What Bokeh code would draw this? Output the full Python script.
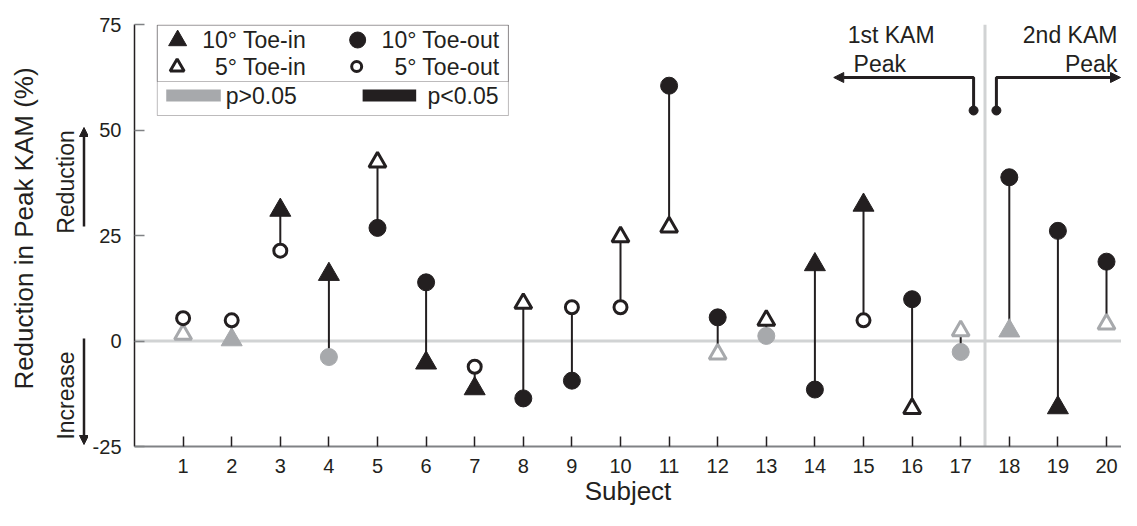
import numpy as np
from bokeh.plotting import figure
from bokeh.layouts import row
from bokeh.models import (Range1d, FixedTicker, Span, Label, Arrow, NormalHead,
                          BoxAnnotation, ColumnDataSource)
from bokeh.embed import file_html
from bokeh.resources import INLINE

# ---------------- data ----------------
subjects = list(range(1, 21))
x_ticks = subjects
y_ticks = [-25, 0, 25, 50, 75]

# Reduction in peak KAM (%) per subject (None = condition not plotted)
toe_in_10 = [None, 0.3, 31.0, 15.8, None, -5.2, -11.3, None, None, None,
             None, None, None, 18.1, 32.2, None, None, 2.4, -15.8, None]
toe_in_5 = [1.6, None, None, None, 42.4, None, None, 8.9, None, 24.7,
            27.0, -3.1, 4.9, None, None, -16.0, 2.4, None, None, 4.0]
toe_out_10 = [None, None, None, -3.8, 26.8, 13.9, None, -13.6, -9.4, None,
              60.5, 5.6, 1.2, -11.5, None, 9.9, -2.6, 38.8, 26.1, 18.8]
toe_out_5 = [5.4, 4.9, 21.4, None, None, None, -6.1, None, 8.0, 8.0,
             None, None, None, None, 4.9, None, None, None, None, None]

# significance: True = p<0.05 (black), False = p>0.05 (grey)
toe_in_10_sig = [None, False, True, True, None, True, True, None, None, None,
                 None, None, None, True, True, None, None, False, True, None]
toe_in_5_sig = [False, None, None, None, True, None, None, True, None, True,
                True, False, True, None, None, True, False, None, None, False]
toe_out_10_sig = [None, None, None, False, True, True, None, True, True, None,
                  True, True, False, True, None, True, False, True, True, True]
toe_out_5_sig = [True, True, True, None, None, None, True, None, True, True,
                 None, None, None, None, True, None, None, None, None, None]

peak_split = 17.5  # subjects 1-17: 1st KAM peak, 18-20: 2nd KAM peak

# ---------------- style / geometry ----------------
BLACK = "#231f20"
GREY = "#a7a9ac"
LIGHT = "#d1d3d4"
AXIS_GREY = "#808285"
FONT = "Liberation Sans"

H = 510
LEFT_W = 88
MAIN_W = 1121 - LEFT_W
BORDER_L, BORDER_T, BORDER_B = 46, 24, 64
PX_PER_X = 48.6
X_MIN = 0.0
X_MAX = (MAIN_W - BORDER_L) / PX_PER_X
Y_MIN, Y_MAX = -25.0, 75.0

y_range = Range1d(Y_MIN, Y_MAX)

# reference-image pixel -> data helpers (used only for annotation placement)
def X(px):
    return (px - 134) / 49.0

def Y(py):
    return Y_MAX - (py - 24) / 4.22

p = figure(width=MAIN_W, height=H, output_backend="svg", toolbar_location=None,
           x_range=Range1d(X_MIN, X_MAX), y_range=y_range,
           min_border_left=BORDER_L, min_border_right=0,
           min_border_top=BORDER_T, min_border_bottom=BORDER_B)
p.outline_line_color = None
p.grid.visible = False

# axes
p.xaxis.ticker = FixedTicker(ticks=x_ticks)
p.yaxis.ticker = FixedTicker(ticks=y_ticks)
p.yaxis.major_label_overrides = {t: str(t) for t in y_ticks}
p.xaxis.minor_tick_line_color = None
p.yaxis.minor_tick_line_color = None
for ax in (p.xaxis, p.yaxis):
    ax.major_tick_in = 10
    ax.major_tick_out = 0
    ax.major_label_text_font = FONT
    ax.major_label_text_font_size = "20px"
    ax.major_label_text_color = BLACK
p.xaxis.axis_line_color = AXIS_GREY
p.xaxis.axis_line_width = 2
p.xaxis.major_tick_line_color = BLACK
p.xaxis.major_tick_line_width = 1.5
p.xaxis.major_label_standoff = 12
p.xaxis.axis_label = "Subject"
p.xaxis.axis_label_text_font = FONT
p.xaxis.axis_label_text_font_size = "26px"
p.xaxis.axis_label_text_font_style = "normal"
p.xaxis.axis_label_text_color = BLACK
p.xaxis.axis_label_standoff = 0
p.yaxis.axis_line_color = BLACK
p.yaxis.axis_line_width = 1.5
p.yaxis.major_tick_line_color = AXIS_GREY
p.yaxis.major_tick_line_width = 1.5
p.yaxis.major_label_standoff = 13

# reference lines
p.add_layout(Span(location=0, dimension="width", line_color=LIGHT,
                  line_width=3, level="underlay"))
p.add_layout(Span(location=peak_split, dimension="height", line_color=LIGHT,
                  line_width=3, level="underlay"))

# connecting lines between the two conditions of each subject
seg_x, seg_lo, seg_hi = [], [], []
for i, s in enumerate(subjects):
    vals = [v for v in (toe_in_10[i], toe_in_5[i], toe_out_10[i], toe_out_5[i])
            if v is not None]
    seg_x.append(s)
    seg_lo.append(min(vals))
    seg_hi.append(max(vals))
p.segment(x0=seg_x, y0=seg_lo, x1=seg_x, y1=seg_hi,
          line_color=BLACK, line_width=2)

def pts(vals, sig):
    xs, ys, cs = [], [], []
    for s, v, g in zip(subjects, vals, sig):
        if v is not None:
            xs.append(s)
            ys.append(v)
            cs.append(BLACK if g else GREY)
    return ColumnDataSource(dict(x=xs, y=ys, c=cs))

p.scatter("x", "y", source=pts(toe_in_10, toe_in_10_sig), marker="triangle",
          size=21, fill_color="c", line_color="c", line_width=1)
p.scatter("x", "y", source=pts(toe_in_5, toe_in_5_sig), marker="triangle",
          size=17, fill_color="white", line_color="c", line_width=3)
p.scatter("x", "y", source=pts(toe_out_10, toe_out_10_sig), marker="circle",
          size=17, fill_color="c", line_color="c", line_width=1)
p.scatter("x", "y", source=pts(toe_out_5, toe_out_5_sig), marker="circle",
          size=13, fill_color="white", line_color="c", line_width=3)

# ---------------- legend box ----------------
p.add_layout(BoxAnnotation(left=X(157), right=X(511), top=Y_MAX - 0.15,
                           bottom=Y(115), fill_alpha=0, line_color=BLACK,
                           line_width=1))
p.add_layout(BoxAnnotation(left=X(157), right=X(511), top=Y_MAX - 0.15,
                           bottom=Y(81), fill_alpha=0, line_color=BLACK,
                           line_width=1))
p.scatter([X(177.5)], [Y(40)], marker="triangle", size=18,
          fill_color=BLACK, line_color=BLACK)
p.scatter([X(359)], [Y(39.5)], marker="circle", size=16,
          fill_color=BLACK, line_color=BLACK)
p.scatter([X(177)], [Y(66.5)], marker="triangle", size=14,
          fill_color="white", line_color=BLACK, line_width=3)
p.scatter([X(358)], [Y(66)], marker="circle", size=10,
          fill_color="white", line_color=BLACK, line_width=3)
p.quad(left=[X(166)], right=[X(221)], top=[Y(89)], bottom=[Y(101)],
       fill_color=GREY, line_color=None)
p.quad(left=[X(364)], right=[X(418)], top=[Y(89)], bottom=[Y(101)],
       fill_color=BLACK, line_color=None)

def lab(fig, text, x, y, size="23px", align="left", angle=0.0):
    fig.add_layout(Label(x=x, y=y, text=text, text_font=FONT,
                         text_font_size=size, text_color=BLACK,
                         text_align=align, text_baseline="middle", angle=angle))

lab(p, "10\u00b0 Toe-in", X(307), Y(39.5), align="right")
lab(p, "10\u00b0 Toe-out", X(502), Y(39.5), align="right")
lab(p, "5\u00b0 Toe-in", X(307), Y(66), align="right")
lab(p, "5\u00b0 Toe-out", X(502), Y(66), align="right")
lab(p, "p>0.05", X(226), Y(95))
lab(p, "p<0.05", X(501), Y(95), align="right")

# ---------------- KAM peak annotations ----------------
lab(p, "1st KAM", X(853), Y(34.5))
lab(p, "Peak", X(859), Y(63.5))
lab(p, "2nd KAM", X(1125), Y(34.5), align="right")
lab(p, "Peak", X(1125), Y(63.5), align="right")

p.line([X(980), X(980), X(850)], [Y(110), Y(77), Y(77)], line_color=BLACK,
       line_width=3)
p.add_layout(Arrow(end=NormalHead(size=10, fill_color=BLACK, line_color=BLACK),
                   x_start=X(900), y_start=Y(77), x_end=X(839), y_end=Y(77),
                   line_color=BLACK, line_width=3))
p.line([X(1003), X(1003), X(1090)], [Y(110), Y(77), Y(77)], line_color=BLACK,
       line_width=3)
p.add_layout(Arrow(end=NormalHead(size=10, fill_color=BLACK, line_color=BLACK),
                   x_start=X(1060), y_start=Y(77), x_end=X_MAX - 0.02,
                   y_end=Y(77), line_color=BLACK, line_width=3))
p.scatter([X(980), X(1003)], [Y(110), Y(110)], marker="circle", size=9,
          fill_color=BLACK, line_color=BLACK)

# ---------------- left strip: axis title & direction hints ----------------
left = figure(width=LEFT_W, height=H, output_backend="svg",
              toolbar_location=None, x_range=Range1d(0, LEFT_W),
              y_range=y_range, x_axis_location=None, y_axis_location=None,
              min_border_left=0, min_border_right=0,
              min_border_top=BORDER_T, min_border_bottom=BORDER_B)
left.outline_line_color = None
left.grid.visible = False

lab(left, "Reduction in Peak KAM (%)", 23, Y(228), size="26px",
    align="center", angle=np.pi / 2)
lab(left, "Reduction", 65, Y(181.5), size="23px", align="center",
    angle=np.pi / 2)
lab(left, "Increase", 65, Y(395), size="23px", align="center",
    angle=np.pi / 2)
left.add_layout(Arrow(end=NormalHead(size=9, fill_color=BLACK, line_color=BLACK),
                      x_start=83.5, y_start=Y(226), x_end=83.5, y_end=Y(127),
                      line_color=BLACK, line_width=2.5))
left.add_layout(Arrow(end=NormalHead(size=9, fill_color=BLACK, line_color=BLACK),
                      x_start=83.5, y_start=Y(338), x_end=83.5, y_end=Y(444),
                      line_color=BLACK, line_width=2.5))

layout = row(left, p)
open("out.html", "w").write(file_html(layout, INLINE))
